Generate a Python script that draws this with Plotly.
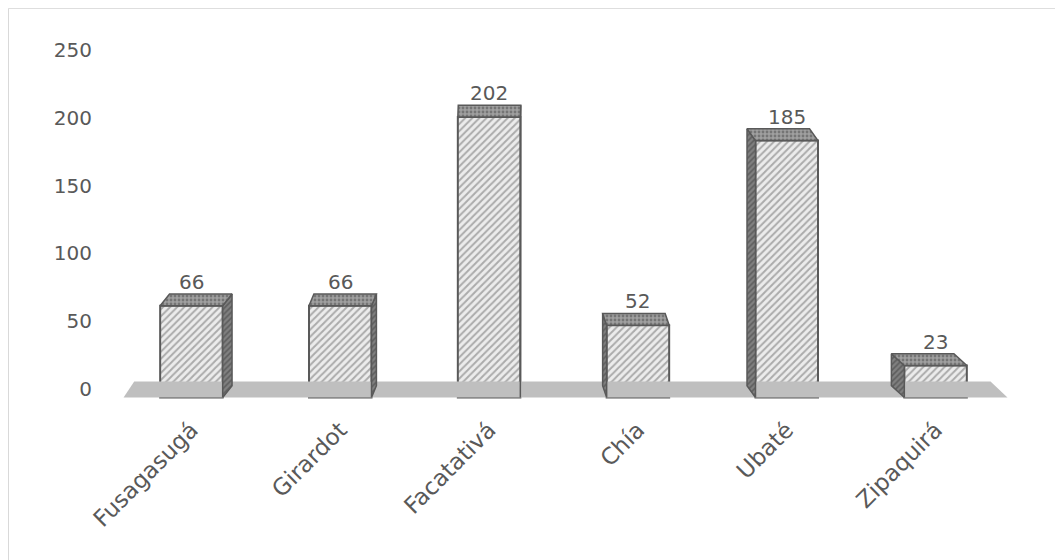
import plotly.graph_objects as go

categories = ["Fusagasugá", "Girardot", "Facatativá", "Chía", "Ubaté", "Zipaquirá"]
values = [66, 66, 202, 52, 185, 23]
y_ticks = [0, 50, 100, 150, 200, 250]

TEXT = "#595959"
FONT = "'DejaVu Sans', sans-serif"
BAR_W = 0.42
DEPTH = 8.5        # depth of the bar top in y units
VP = 2.1           # perspective vanishing position (category units)
K = 0.03           # perspective shift factor
FLOOR_D = 11.5
K_FLOOR = 0.028

xs = list(range(len(categories)))
fig = go.Figure()

# floor
fl, fr = -0.456, 5.483
floor_x = [fl, fr, fr - (fr - VP) * K_FLOOR * 1.2, fl - (fl - VP) * K_FLOOR, fl]
floor_y = [0, 0, FLOOR_D, FLOOR_D, 0]
fig.add_trace(go.Scatter(x=floor_x, y=floor_y, fill="toself", mode="lines",
                         fillcolor="#bfbfbf", line=dict(width=0), hoverinfo="skip",
                         showlegend=False))

# side and top faces
for i, v in zip(xs, values):
    s = -(i - VP) * K
    xl, xr = i - BAR_W / 2, i + BAR_W / 2
    if s > 0:
        sx = [xr, xr, xr + s, xr + s, xr]
    else:
        sx = [xl, xl, xl + s, xl + s, xl]
    sy = [0, v, v + DEPTH, DEPTH, 0]
    fig.add_trace(go.Scatter(x=sx, y=sy, fill="toself", mode="lines",
                             fillcolor="#6e6e6e",
                             fillpattern=dict(shape="/", fgcolor="#3a3a3a", bgcolor="#808080",
                                              size=4, solidity=0.4),
                             line=dict(color="#595959", width=1.5), hoverinfo="skip",
                             showlegend=False))
    tx = [xl, xr, xr + s, xl + s, xl]
    ty = [v, v, v + DEPTH, v + DEPTH, v]
    fig.add_trace(go.Scatter(x=tx, y=ty, fill="toself", mode="lines",
                             fillpattern=dict(shape=".", fgcolor="#4a4a4a", bgcolor="#a0a0a0",
                                              size=4, solidity=0.4),
                             line=dict(color="#595959", width=1.5), hoverinfo="skip",
                             showlegend=False))

fig.add_trace(go.Bar(
    x=xs, y=values, width=BAR_W,
    marker=dict(color="#f2f2f2",
                line=dict(color="#595959", width=2),
                pattern=dict(shape="/", fgcolor="#6a6a6a", bgcolor="#ececec",
                             size=5, solidity=0.4)),
    hoverinfo="skip", showlegend=False))

# invisible trace for back-wall tick axis
fig.add_trace(go.Scatter(x=[0], y=[0], yaxis="y2", mode="markers",
                         marker=dict(opacity=0), hoverinfo="skip", showlegend=False))

for i, v in zip(xs, values):
    fig.add_annotation(x=i, y=v, text=str(v), showarrow=False, yshift=24,
                       yanchor="middle", font=dict(size=20, color=TEXT, family=FONT))

# outer border
fig.add_shape(type="rect", xref="paper", yref="paper",
              x0=-0.1215, y0=-0.5, x1=1.2, y1=1.0932,
              line=dict(color="#d9d9d9", width=1), layer="below")

fig.update_layout(
    width=1063, height=560,
    margin=dict(l=109, r=61, t=34, b=165, autoexpand=False),
    paper_bgcolor="white", plot_bgcolor="white",
    font=dict(family=FONT, color=TEXT),
    bargap=0.5,
    xaxis=dict(range=[-0.5, 5.5], tickmode="array", tickvals=xs, ticktext=categories,
               tickangle=-45, showgrid=False, zeroline=False, showline=False,
               automargin=False, ticklabelstandoff=8,
               ticks="", tickfont=dict(size=23, color=TEXT, family=FONT)),
    yaxis=dict(range=[-4, 256], showticklabels=False, showgrid=False,
               automargin=False,
               zeroline=False, showline=False, ticks=""),
    yaxis2=dict(range=[-10.4, 256.1], overlaying="y", side="left",
                tickmode="array", tickvals=y_ticks, showgrid=False, zeroline=False,
                automargin=False,
                showline=False, ticks="", ticklabelstandoff=24,
                tickfont=dict(size=20, color=TEXT, family=FONT)),
)

fig.write_html("out.html")
